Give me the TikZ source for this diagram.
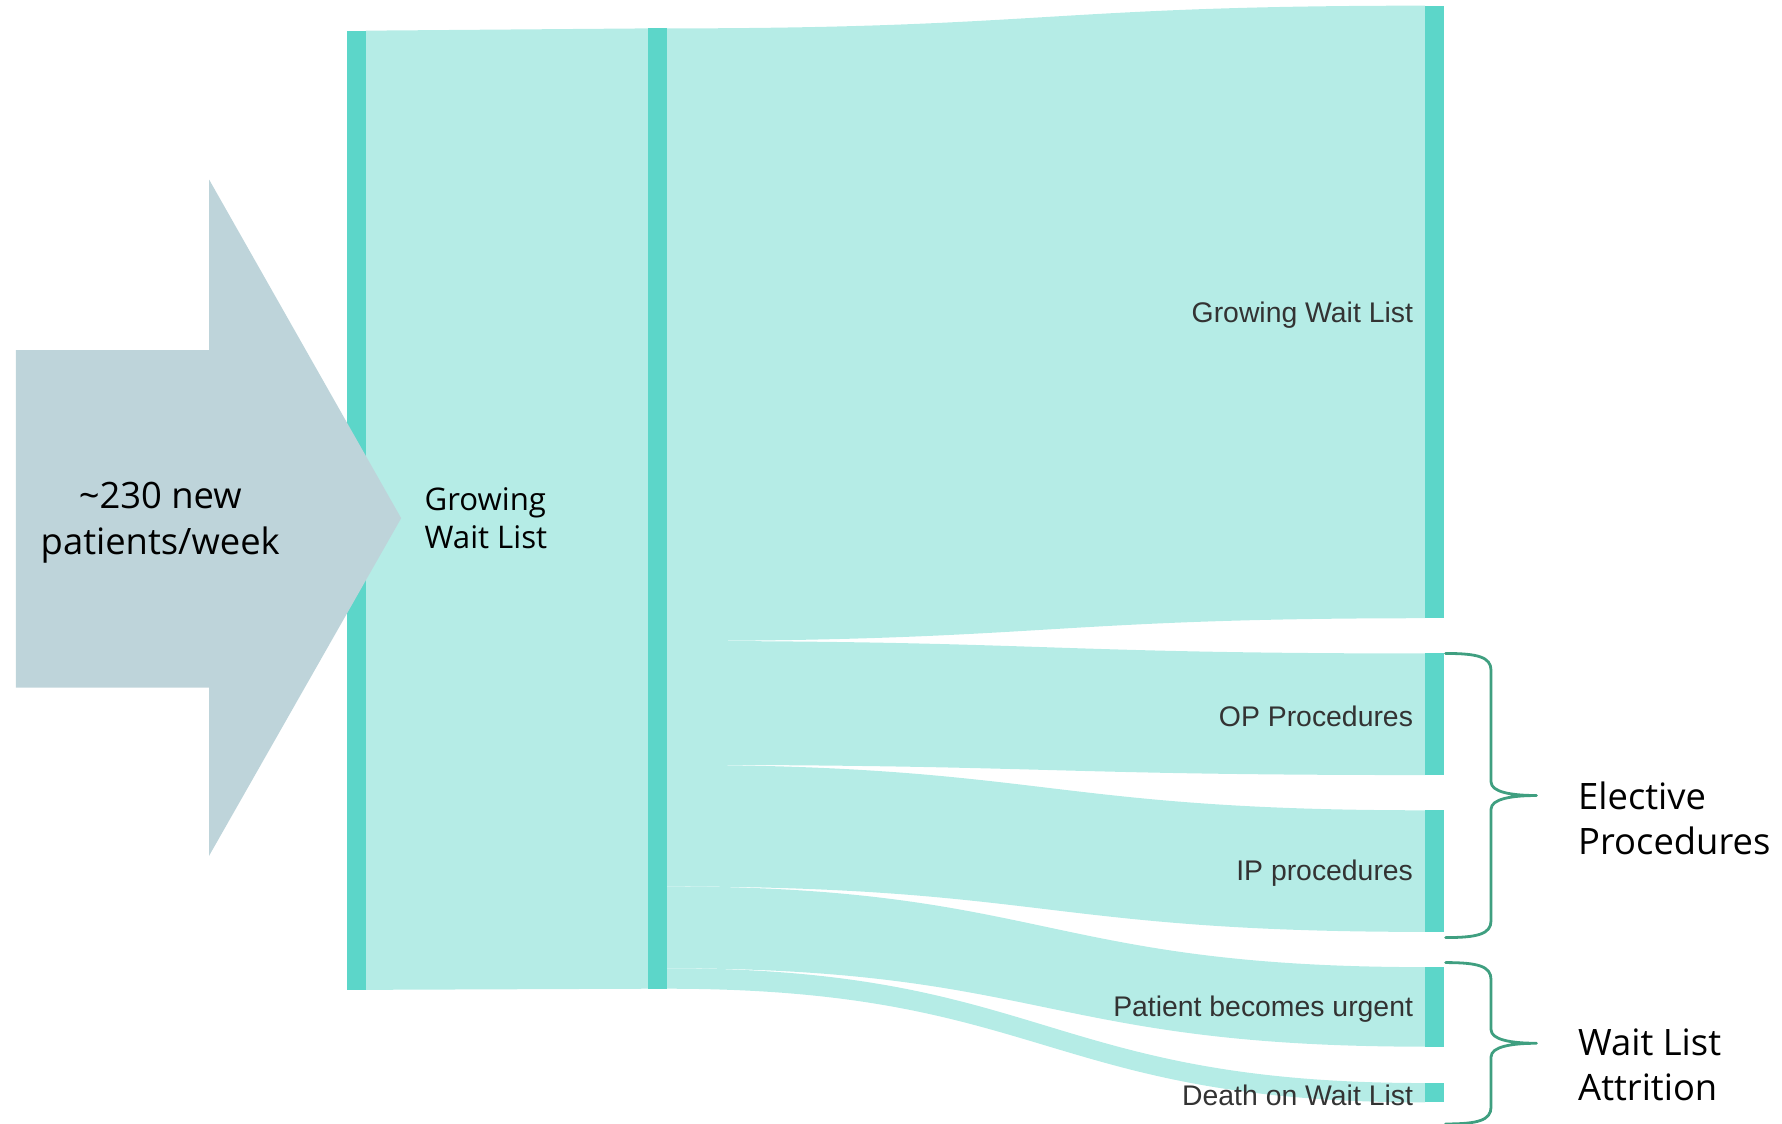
\documentclass[tikz,border=0pt]{standalone}
\usepackage{fontspec}
\setmainfont{Open Sans}
\newfontfamily\chartfont{Liberation Sans}
\definecolor{barteal}{HTML}{5CD6C9}
\definecolor{flowteal}{HTML}{B5ECE6}
\definecolor{arrowgrey}{HTML}{BED4DA}
\definecolor{bracegreen}{HTML}{3F9F80}
\definecolor{labelgrey}{HTML}{333333}
\begin{document}
\begin{tikzpicture}[x=0.01cm,y=-0.01cm,line cap=round,line join=round,
  bar/.style={fill=barteal},
  band/.style={fill=flowteal},
  brace/.style={draw=bracegreen,line width=0.7pt},
  sankeylabel/.style={font=\chartfont\fontsize{7.1}{8.5}\selectfont,text=labelgrey,anchor=east,inner sep=0pt},
  biglabel/.style={font=\fontsize{9.1}{11.4}\selectfont,inner sep=0pt}]
  \useasboundingbox (0,0) rectangle (1568,989);
  % first stage
  \fill[band] (322,27) -- (570,25) -- (570,870) -- (322,871) -- cycle;
  % second stage
  \foreach \sa/\sb/\ta/\tb in {25/564/5/544,564/673/575/682,673/780/713/820,780/852/851/921,852/870/953/970}
    \fill[band] (587,\sa) .. controls (920,\sa) and (920,\ta) .. (1254,\ta)
      -- (1254,\tb) .. controls (920,\tb) and (920,\sb) .. (587,\sb) -- cycle;
  \fill[bar] (305,27) rectangle (322,871);
  \fill[bar] (570,25) rectangle (587,870);
  \foreach \ta/\tb in {5/544,575/682,713/820,851/921,953/970}
    \fill[bar] (1254,\ta) rectangle (1271,\tb);
  % intake arrow
  \fill[arrowgrey] (14,308) -- (184,308) -- (184,158) -- (353,456)
    -- (184,753) -- (184,605) -- (14,605) -- cycle;
  \node[biglabel,align=center] (intake) at (141,460) {\textasciitilde230 new\\patients/week};
  \node[biglabel,font=\fontsize{7.8}{9.4}\selectfont,align=left,anchor=west] (listin) at (373,456) {Growing\\Wait List};
  \node[sankeylabel] (listout) at (1244,277) {Growing Wait List};
  \node[sankeylabel] (oproc) at (1244,630) {OP Procedures};
  \node[sankeylabel] (iproc) at (1244,768) {IP procedures};
  \node[sankeylabel] (urgent) at (1244,888) {Patient becomes urgent};
  \node[sankeylabel] (death) at (1244,964) {Death on Wait List};
  % braces
  \draw[brace] (1272,575) .. controls (1300,575) and (1312,578) .. (1312,590) -- (1312,688)
    .. controls (1312,697) and (1330,700) .. (1352,700)
    .. controls (1330,700) and (1312,703) .. (1312,712) -- (1312,810)
    .. controls (1312,822) and (1300,825) .. (1272,825);
  \draw[brace] (1272,847) .. controls (1300,847) and (1312,850) .. (1312,862) -- (1312,906)
    .. controls (1312,915) and (1330,918) .. (1352,918)
    .. controls (1330,918) and (1312,921) .. (1312,930) -- (1312,974)
    .. controls (1312,986) and (1300,989) .. (1272,989);
  \node[biglabel,align=left,anchor=west] (elective) at (1388,720) {Elective\\Procedures};
  \node[biglabel,align=left,anchor=west] (attrition) at (1388,937) {Wait List\\Attrition};
\end{tikzpicture}
\end{document}
